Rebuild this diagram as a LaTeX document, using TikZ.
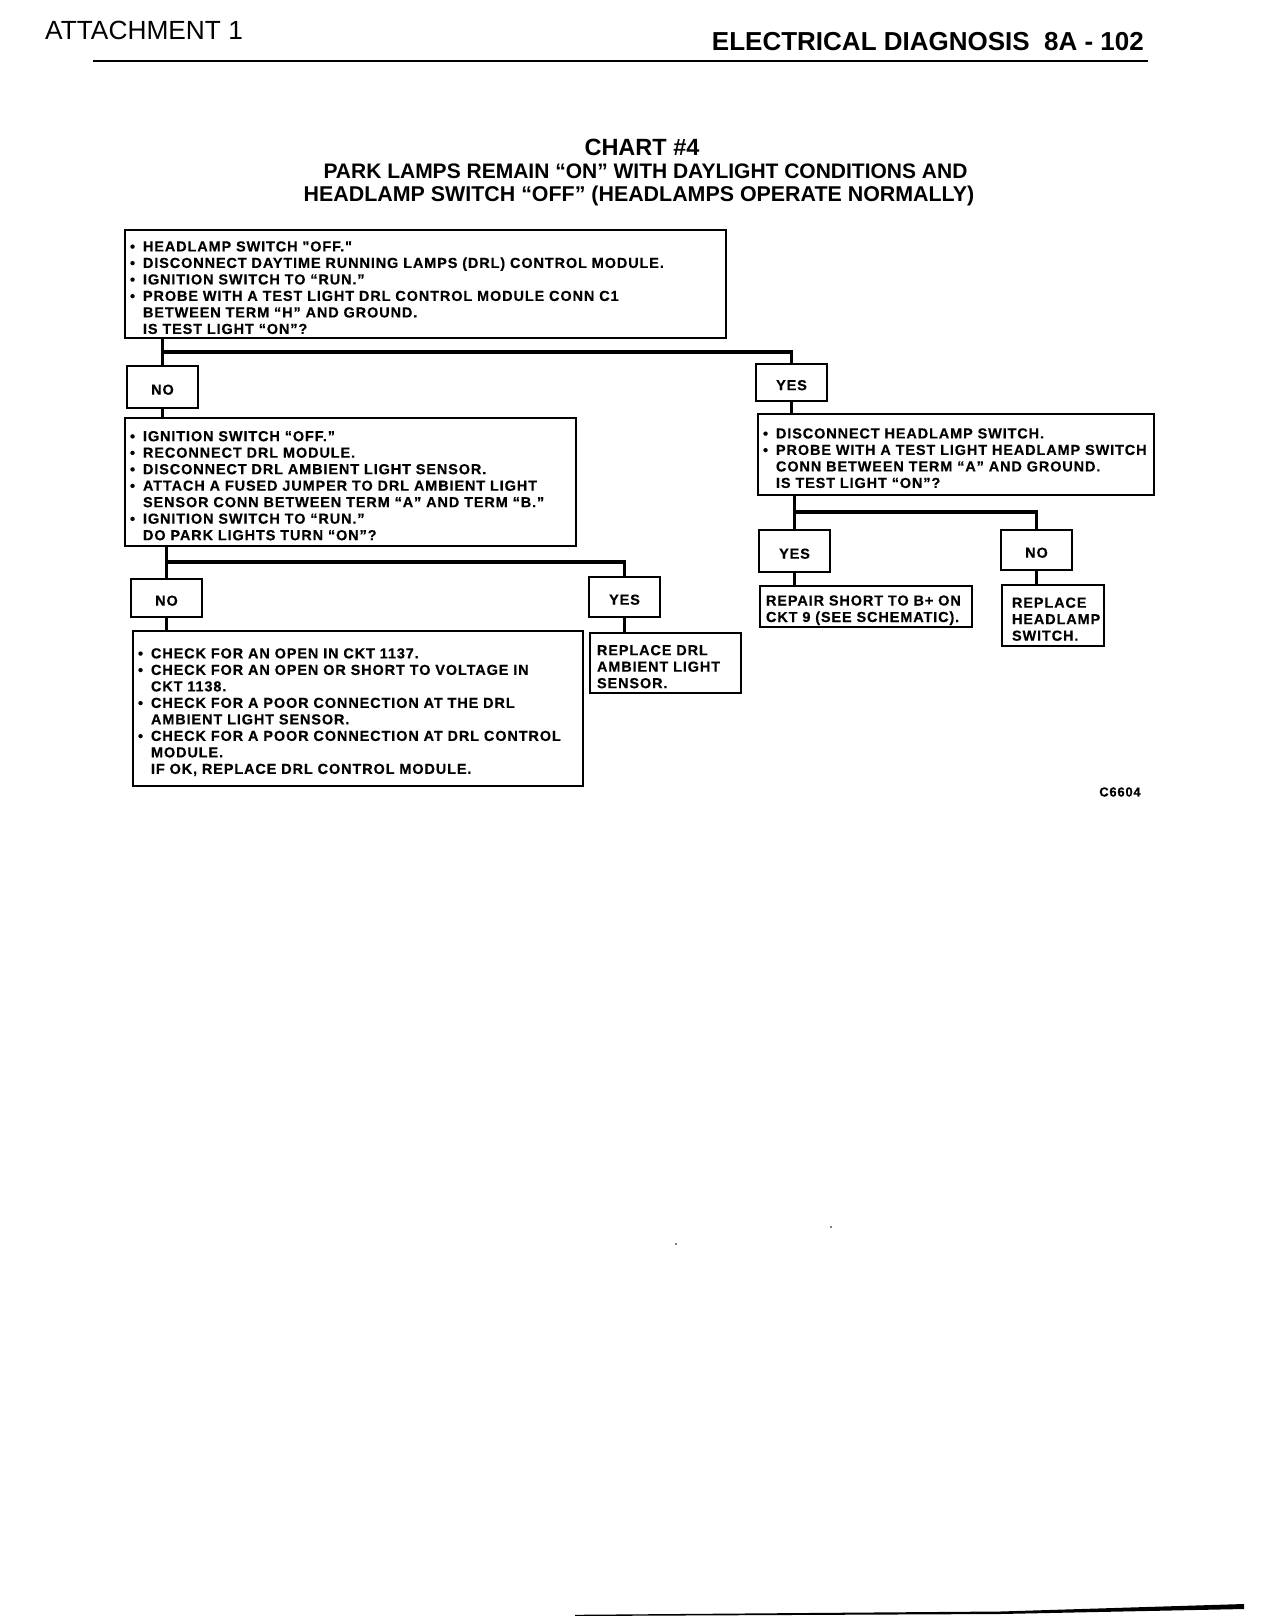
\documentclass[tikz,border=0pt]{standalone}
\usepackage{fontspec}
\setmainfont{Liberation Sans}
\newfontfamily\boxfont[LetterSpace=6,FakeBold=0.4]{Liberation Sans}
\newcommand\bl[1]{\mbox{\makebox[13pt][l]{•}#1}}
\newcommand\cl[1]{\mbox{\hspace*{13pt}#1}}
\newcommand\pl[1]{\mbox{#1}}
\begin{document}
\begin{tikzpicture}[x=1pt,y=-1pt,
  box/.style={draw, line width=1.8pt, rectangle, inner xsep=5pt, inner ysep=0pt, align=left,
    font=\boxfont\bfseries\fontsize{14.5}{16.5}\selectfont,
    execute at begin node={\rule{0pt}{17.5pt}}},
  tag/.style={draw, line width=1.8pt, rectangle, minimum width=71pt, inner sep=0pt,
    font=\boxfont\bfseries\fontsize{14.5}{16.5}\selectfont,
    execute at begin node={\rule{0pt}{15.5pt}}},
  conn/.style={line width=3.5pt},
  rule/.style={line width=2pt}]
\fill[white] (0,0) rectangle (1264,1616);
\useasboundingbox (0,0) rectangle (1264,1616);

% header
\node[anchor=west, inner sep=0pt, font=\fontsize{26.3}{30}\selectfont] (att) at (45,30) {ATTACHMENT 1};
\node[anchor=east, inner sep=0pt, font=\bfseries\fontsize{26}{30}\selectfont] (hdr) at (1144,42) {ELECTRICAL DIAGNOSIS\hspace{0.55em}8A - 102};
\draw[rule] (93,61) -- (1148,61);

% title
\node[inner sep=0pt, font=\bfseries\fontsize{23.5}{28}\selectfont] (t1) at (642,147) {CHART \#4};
\node[inner sep=0pt, font=\bfseries\fontsize{21}{24}\selectfont] (t2) at (645.5,171) {PARK LAMPS REMAIN “ON” WITH DAYLIGHT CONDITIONS AND};
\node[inner sep=0pt, font=\bfseries\fontsize{21.4}{24}\selectfont] (t3) at (639,195.5) {HEADLAMP SWITCH “OFF” (HEADLAMPS OPERATE NORMALLY)};

% boxes
\node[box, text width=591pt, minimum height=108pt] (b1) at (425.5,284) {%
\bl{HEADLAMP SWITCH "OFF."}\\
\bl{DISCONNECT DAYTIME RUNNING LAMPS (DRL) CONTROL MODULE.}\\
\bl{IGNITION SWITCH TO “RUN.”}\\
\bl{PROBE WITH A TEST LIGHT DRL CONTROL MODULE CONN C1}\\
\cl{BETWEEN TERM “H” AND GROUND.}\\
\cl{IS TEST LIGHT “ON”?}};

\node[tag, minimum height=42pt] (no1) at (162.5,387) {NO};
\node[tag, minimum height=37pt] (yes1) at (791.5,382.5) {YES};

\node[box, text width=441pt, minimum height=128pt] (b2) at (350.5,482) {%
\bl{IGNITION SWITCH “OFF.”}\\
\bl{RECONNECT DRL MODULE.}\\
\bl{DISCONNECT DRL AMBIENT LIGHT SENSOR.}\\
\bl{ATTACH A FUSED JUMPER TO DRL AMBIENT LIGHT}\\
\cl{SENSOR CONN BETWEEN TERM “A” AND TERM “B.”}\\
\bl{IGNITION SWITCH TO “RUN.”}\\
\cl{DO PARK LIGHTS TURN “ON”?}};

\node[box, text width=386pt, minimum height=81pt] (b3) at (956,454.5) {%
\bl{DISCONNECT HEADLAMP SWITCH.}\\
\bl{PROBE WITH A TEST LIGHT HEADLAMP SWITCH}\\
\cl{CONN BETWEEN TERM “A” AND GROUND.}\\
\cl{IS TEST LIGHT “ON”?}};

\node[tag, minimum height=38pt] (no2) at (166.5,598) {NO};
\node[tag, minimum height=40pt] (yes2) at (624.5,597) {YES};

\node[box, text width=440pt, minimum height=155pt] (b4) at (358,708.5) {%
\bl{CHECK FOR AN OPEN IN CKT 1137.}\\
\bl{CHECK FOR AN OPEN OR SHORT TO VOLTAGE IN}\\
\cl{CKT 1138.}\\
\bl{CHECK FOR A POOR CONNECTION AT THE DRL}\\
\cl{AMBIENT LIGHT SENSOR.}\\
\bl{CHECK FOR A POOR CONNECTION AT DRL CONTROL}\\
\cl{MODULE.}\\
\cl{IF OK, REPLACE DRL CONTROL MODULE.}};

\node[box, inner xsep=7pt, text width=137pt, minimum height=60pt] (b5) at (665.5,663) {%
\pl{REPLACE DRL}\\
\pl{AMBIENT LIGHT}\\
\pl{SENSOR.}};

\node[tag, minimum height=42pt] (yes3) at (794.5,551) {YES};
\node[tag, minimum height=40pt] (no3) at (1036.5,550) {NO};

\node[box, inner xsep=6pt, text width=200pt, minimum height=41pt] (b6) at (866,606.5) {%
\pl{REPAIR SHORT TO B+ ON}\\
\pl{CKT 9 (SEE SCHEMATIC).}};

\node[box, inner xsep=10pt, text width=82pt, minimum height=61pt] (b7) at (1053,615.5) {%
\pl{REPLACE}\\
\pl{HEADLAMP}\\
\pl{SWITCH.}};

% connectors
\draw[conn] (no1.north |- b1.south) -- (no1.north);
\draw[conn] (no1.north |- 0,352) -| (yes1.north);
\draw[conn] (no1.south) -- (no1.south |- b2.north);
\draw[conn] (yes1.south) -- (yes1.south |- b3.north);

\draw[conn] (no2.north |- b2.south) -- (no2.north);
\draw[conn] (no2.north |- 0,562) -| (yes2.north);
\draw[conn] (no2.south) -- (no2.south |- b4.north);
\draw[conn] (yes2.south) -- (yes2.south |- b5.north);

\draw[conn] (yes3.north |- b3.south) -- (yes3.north);
\draw[conn] (yes3.north |- 0,512) -| (no3.north);
\draw[conn] (yes3.south) -- (yes3.south |- b6.north);
\draw[conn] (no3.south) -- (no3.south |- b7.north);

% figure code
\node[inner sep=0pt, font=\boxfont\bfseries\fontsize{13}{15}\selectfont] (code) at (1120,792) {C6604};

% scan artefacts
\fill (676,1244) circle (0.9);
\fill (831,1227) circle (0.9);
\fill (575,1614.8) -- (1000,1611.5) -- (1244,1604) -- (1244,1609) -- (1000,1614) -- (575,1616) -- cycle;
\end{tikzpicture}
\end{document}
